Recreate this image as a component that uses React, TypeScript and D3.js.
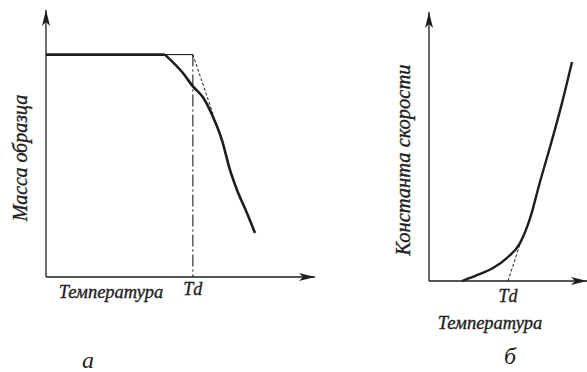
import React from "react";
import * as d3 from "d3";

// Panel a: mass vs temperature (arbitrary units 0..100)
const plateauT = [0, 44.2];
const plateauM = [83.3, 83.3];
const massT = [44.2, 50.9, 54.6, 58.4, 62.1, 65.4, 68.4, 71, 74.7, 77.7];
const massM = [83.3, 76.4, 71.4, 67.2, 59.9, 51.3, 40.1, 32.6, 24, 16.5];
const tdA = 54.6;
const tangentA_T = [54.6, 62.1];
const tangentA_M = [83.3, 61.0];

// Panel b: rate constant vs temperature
const rateT = [20.9, 30.4, 40.5, 49.4, 57.6, 63.9, 70.3, 76.6, 84.2, 90.5];
const rateK = [0, 2.2, 4.8, 8.6, 14.1, 23.2, 37.0, 49.8, 66.2, 81.4];
const tdB = 50;
const tangentB_T = [50, 58.9];
const tangentB_K = [0, 16];

const labelsA = { y: "Масса образца", x: "Температура", td: "Td", panel: "а" };
const labelsB = { y: "Константа скорости", x: "Температура", td: "Td", panel: "б" };

const INK = "#1e1e1e";
const FONT = "'Liberation Serif', 'DejaVu Serif', serif";

export default function App() {
  const xa = d3.scaleLinear().domain([0, 100]).range([46, 315]);
  const ya = d3.scaleLinear().domain([0, 100]).range([277, 10]);
  const xb = d3.scaleLinear().domain([0, 100]).range([429, 587]);
  const yb = d3.scaleLinear().domain([0, 100]).range([281, 12]);

  const ptsA = massT.map((t, i) => [t, massM[i]] as [number, number]);
  const lineA = d3.line<[number, number]>().x(d => xa(d[0])).y(d => ya(d[1])).curve(d3.curveMonotoneX);
  const ptsB = rateT.map((t, i) => [t, rateK[i]] as [number, number]);
  const lineB = d3.line<[number, number]>().x(d => xb(d[0])).y(d => yb(d[1])).curve(d3.curveMonotoneX);

  const flatY = ya(plateauM[1]);
  const txt = { fontFamily: FONT, fontStyle: "italic" as const, fill: INK, stroke: INK, strokeWidth: 0.35 };

  return (
    <svg width={587} height={372} style={{ position: "absolute", left: 0, top: 0, background: "#fff" }}>
      <defs>
        <marker id="arr" viewBox="0 0 16 8" refX="16" refY="4" markerWidth="16" markerHeight="8" markerUnits="userSpaceOnUse" orient="auto">
          <path d="M0,0 L16,4 L0,8 L4,4 Z" fill={INK} />
        </marker>
      </defs>

      {/* Panel a */}
      <line x1={xa(0)} y1={ya(0)} x2={xa(0)} y2={ya(100)} stroke={INK} strokeWidth={1.3} markerEnd="url(#arr)" />
      <line x1={xa(0)} y1={ya(0)} x2={xa(100)} y2={ya(0)} stroke={INK} strokeWidth={1.3} markerEnd="url(#arr)" />
      <line x1={xa(plateauT[1])} y1={flatY} x2={xa(tdA)} y2={flatY} stroke={INK} strokeWidth={1.1} />
      <line x1={xa(tdA)} y1={flatY} x2={xa(tdA)} y2={ya(0)} stroke={INK} strokeWidth={1.1} strokeDasharray="12 3 2 3" />
      <line x1={xa(tangentA_T[0])} y1={ya(tangentA_M[0])} x2={xa(tangentA_T[1])} y2={ya(tangentA_M[1])} stroke={INK} strokeWidth={1} strokeDasharray="3 2" />
      <line x1={xa(plateauT[0])} y1={ya(plateauM[0])} x2={xa(plateauT[1])} y2={ya(plateauM[1])} stroke={INK} strokeWidth={2.6} />
      <path d={lineA(ptsA) || ""} fill="none" stroke={INK} strokeWidth={2.6} strokeLinejoin="round" />
      <text x={20} y={158} transform="rotate(-90 20 158)" textAnchor="middle" dominantBaseline="central" fontSize={20} {...txt}>{labelsA.y}</text>
      <text x={111} y={298} textAnchor="middle" fontSize={18.5} {...txt}>{labelsA.x}</text>
      <text x={xa(tdA)} y={295} textAnchor="middle" fontSize={18} {...txt}>{labelsA.td}</text>
      <text x={88} y={368} textAnchor="middle" fontSize={24} {...txt} strokeWidth={0}>{labelsA.panel}</text>

      {/* Panel b */}
      <line x1={xb(0)} y1={yb(0)} x2={xb(0)} y2={yb(100)} stroke={INK} strokeWidth={1.3} markerEnd="url(#arr)" />
      <line x1={xb(0)} y1={yb(0)} x2={xb(100)} y2={yb(0)} stroke={INK} strokeWidth={1.3} markerEnd="url(#arr)" />
      <line x1={xb(tangentB_T[0])} y1={yb(tangentB_K[0])} x2={xb(tangentB_T[1])} y2={yb(tangentB_K[1])} stroke={INK} strokeWidth={1} strokeDasharray="3 2" />
      <path d={lineB(ptsB) || ""} fill="none" stroke={INK} strokeWidth={2.4} strokeLinejoin="round" />
      <text x={403} y={160} transform="rotate(-90 403 160)" textAnchor="middle" dominantBaseline="central" fontSize={20.5} {...txt}>{labelsB.y}</text>
      <text x={xb(tdB)} y={302} textAnchor="middle" fontSize={18} {...txt}>{labelsB.td}</text>
      <text x={490} y={329} textAnchor="middle" fontSize={18.5} {...txt}>{labelsB.x}</text>
      <text x={510} y={364} textAnchor="middle" fontSize={24} {...txt} strokeWidth={0}>{labelsB.panel}</text>
    </svg>
  );
}
